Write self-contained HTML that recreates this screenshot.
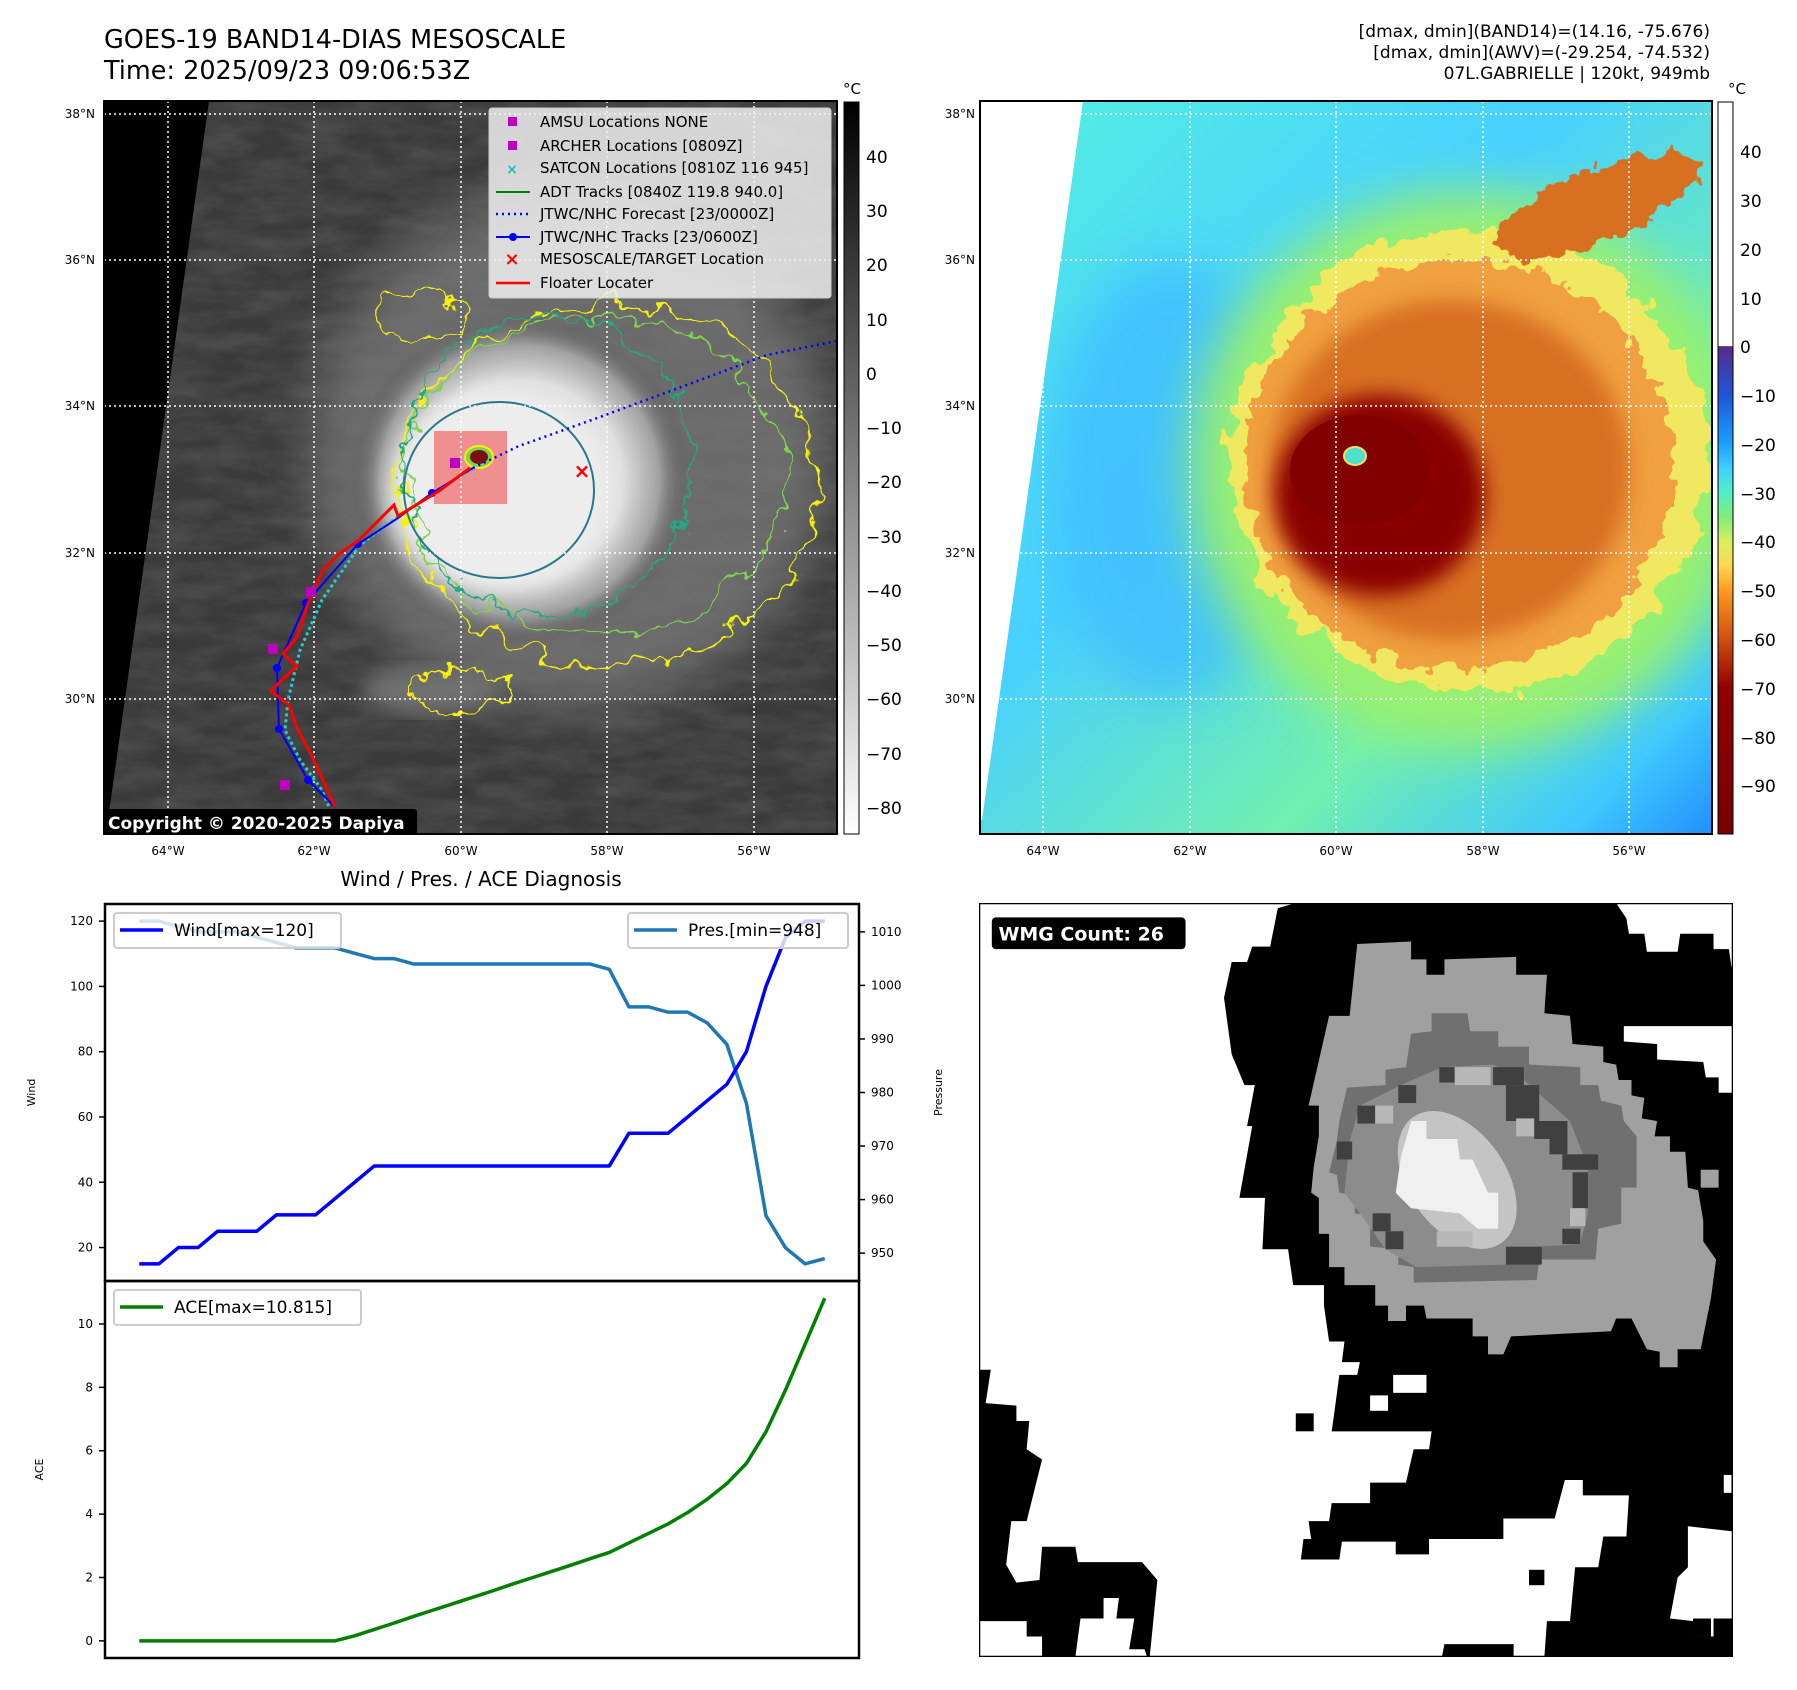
<!DOCTYPE html>
<html><head><meta charset="utf-8">
<style>
html,body{margin:0;padding:0;background:#fff;}
body{width:1797px;height:1690px;position:relative;overflow:hidden;font-family:"DejaVu Sans","Liberation Sans",sans-serif;}
.t{position:absolute;white-space:nowrap;color:#000;}
svg{position:absolute;left:0;top:0;}
</style></head>
<body>
<div class="t" style="left:104px;top:25px;font-size:25.5px;line-height:31px;">GOES-19 BAND14-DIAS MESOSCALE<br>Time: 2025/09/23 09:06:53Z</div>
<div class="t" style="right:87px;top:22px;font-size:17px;line-height:21px;text-align:right;">[dmax, dmin](BAND14)=(14.16, -75.676)<br>[dmax, dmin](AWV)=(-29.254, -74.532)<br>07L.GABRIELLE | 120kt, 949mb</div>

<svg width="1797" height="1690">
<defs>
<filter id="wig" x="-20%" y="-20%" width="140%" height="140%">
<feTurbulence type="fractalNoise" baseFrequency="0.035" numOctaves="3" seed="3" result="n"/>
<feDisplacementMap in="SourceGraphic" in2="n" scale="40" xChannelSelector="R" yChannelSelector="G"/>
</filter>
<filter id="wig2" x="-20%" y="-20%" width="140%" height="140%">
<feTurbulence type="fractalNoise" baseFrequency="0.05" numOctaves="3" seed="7" result="n"/>
<feDisplacementMap in="SourceGraphic" in2="n" scale="30" xChannelSelector="R" yChannelSelector="G"/>
</filter>
<filter id="blur"><feGaussianBlur stdDeviation="25"/></filter>
<filter id="blur2"><feGaussianBlur stdDeviation="10"/></filter>
<filter id="noise" x="0" y="0" width="100%" height="100%">
<feTurbulence type="fractalNoise" baseFrequency="0.02 0.06" numOctaves="4" seed="11"/>
<feColorMatrix type="matrix" values="0 0 0 0 1  0 0 0 0 1  0 0 0 0 1  0 0 0 0.35 -0.1"/>
</filter>
<radialGradient id="cloud1" cx="0.5" cy="0.5" r="0.5">
<stop offset="0" stop-color="#f2f2f2"/><stop offset="0.6" stop-color="#e0e0e0"/><stop offset="0.82" stop-color="#a0a0a0"/><stop offset="1" stop-color="#505050" stop-opacity="0"/>
</radialGradient>
<linearGradient id="cb1" x1="0" y1="0" x2="0" y2="1"><stop offset="0" stop-color="#000"/><stop offset="1" stop-color="#fff"/></linearGradient>
<linearGradient id="cb2" x1="0" y1="0" x2="0" y2="1">
<stop offset="0" stop-color="#ffffff"/>
<stop offset="0.333" stop-color="#ffffff"/>
<stop offset="0.334" stop-color="#5a2a8a"/>
<stop offset="0.40" stop-color="#1f55d8"/>
<stop offset="0.467" stop-color="#1aa0ff"/>
<stop offset="0.50" stop-color="#40d0ff"/>
<stop offset="0.533" stop-color="#50f0c8"/>
<stop offset="0.567" stop-color="#80ec78"/>
<stop offset="0.60" stop-color="#d8f060"/>
<stop offset="0.633" stop-color="#ffd850"/>
<stop offset="0.667" stop-color="#ff9a20"/>
<stop offset="0.733" stop-color="#d05010"/>
<stop offset="0.80" stop-color="#900000"/>
<stop offset="1" stop-color="#780000"/>
</linearGradient>
<linearGradient id="bg2" x1="0" y1="0" x2="1" y2="1">
<stop offset="0" stop-color="#55f0e0"/><stop offset="0.4" stop-color="#48d0ff"/><stop offset="0.7" stop-color="#70f0b0"/><stop offset="0.9" stop-color="#40c8ff"/><stop offset="1" stop-color="#2090ff"/>
</linearGradient>
<clipPath id="clip1"><rect x="104" y="101" width="733" height="733"/></clipPath>
<clipPath id="clip2"><rect x="980" y="101" width="732" height="733"/></clipPath>
</defs>

<!-- ===== MAP 1 ===== -->
<g clip-path="url(#clip1)">
<rect x="104" y="101" width="733" height="733" fill="#3a3a3a"/>
<rect x="104" y="101" width="733" height="733" filter="url(#noise)" opacity="0.5"/>
<ellipse cx="570" cy="450" rx="260" ry="260" fill="#7a7a7a" filter="url(#blur)" opacity="0.75"/>
<ellipse cx="520" cy="480" rx="170" ry="165" fill="url(#cloud1)"/>
<ellipse cx="500" cy="490" rx="110" ry="100" fill="#ededed" filter="url(#blur2)"/>
<ellipse cx="430" cy="690" rx="70" ry="25" fill="#707070" filter="url(#blur2)"/>
<polygon points="104,101 209,101 106,834 104,834" fill="#000"/>
<g fill="none" stroke-width="2">
<ellipse cx="608" cy="485" rx="210" ry="180" stroke="#f2f20a" filter="url(#wig)"/>
<ellipse cx="595" cy="476" rx="190" ry="160" stroke="#7fd34e" filter="url(#wig)"/>
<ellipse cx="548" cy="465" rx="144" ry="150" stroke="#22a884" filter="url(#wig2)"/>
<ellipse cx="499" cy="490" rx="95" ry="88" stroke="#2a788e"/>
<ellipse cx="420" cy="315" rx="45" ry="25" stroke="#f2f20a" filter="url(#wig2)"/>
<ellipse cx="460" cy="690" rx="50" ry="20" stroke="#f2f20a" filter="url(#wig2)"/>
</g>
<rect x="434" y="431" width="73" height="73" fill="rgba(240,80,80,0.6)"/>
<ellipse cx="479" cy="457" rx="14" ry="11" fill="#7fd34e" stroke="#f2f20a" stroke-width="2"/>
<ellipse cx="479" cy="457" rx="9" ry="7" fill="#7a1010"/>
<g stroke-width="1.5" fill="none" stroke="#ffffff" stroke-dasharray="2,3">
<line x1="104" y1="114" x2="837" y2="114"/><line x1="104" y1="260" x2="837" y2="260"/><line x1="104" y1="406" x2="837" y2="406"/><line x1="104" y1="553" x2="837" y2="553"/><line x1="104" y1="699" x2="837" y2="699"/>
<line x1="168" y1="101" x2="168" y2="834"/><line x1="314" y1="101" x2="314" y2="834"/><line x1="461" y1="101" x2="461" y2="834"/><line x1="607" y1="101" x2="607" y2="834"/><line x1="754" y1="101" x2="754" y2="834"/>
</g>
<polyline points="340,834 322,790 300,760 285,730 288,700 300,650 322,600 360,545 400,515 440,490 475,467" fill="none" stroke="#20d0d0" stroke-width="3" stroke-dasharray="3,3"/>
<polyline points="473,468 519,446 600,417 692,383 767,355 837,341" fill="none" stroke="#0000ff" stroke-width="2.5" stroke-dasharray="2,4"/>
<polyline points="335,807 308,780 279,729 277,668 306,603 358,544 398,518 432,493 473,468" fill="none" stroke="#0000ff" stroke-width="2"/>
<g fill="#0000ff"><circle cx="308" cy="780" r="4"/><circle cx="279" cy="729" r="4"/><circle cx="277" cy="668" r="4"/><circle cx="306" cy="603" r="4"/><circle cx="358" cy="544" r="4"/><circle cx="432" cy="493" r="4"/></g>
<polyline points="335,807 312,756 297,728 289,705 271,691 280,682 297,666 283,654 297,637 306,609 315,587 323,570 340,553 358,541 394,505 398,516 439,491 470,468" fill="none" stroke="#ff0000" stroke-width="3"/>
<g fill="#c000c0"><rect x="450" y="458" width="10" height="10"/><rect x="306" y="587" width="10" height="10"/><rect x="268" y="644" width="10" height="10"/><rect x="280" y="780" width="10" height="10"/></g>
<text x="582" y="478" fill="#ff0000" font-size="20" font-weight="bold" text-anchor="middle">×</text>
<rect x="103" y="809" width="314" height="26" rx="3" fill="#000"/>
<text x="108" y="829" fill="#fff" font-size="17" font-weight="bold">Copyright © 2020-2025 Dapiya</text>
</g>
<rect x="104" y="101" width="733" height="733" fill="none" stroke="#000" stroke-width="2"/>

<!-- legend map1 -->
<g font-size="15">
<rect x="489" y="108" width="342" height="190" rx="3" fill="rgba(240,240,240,0.85)" stroke="#ccc"/>
<rect x="508" y="117" width="9" height="9" fill="#c000c0"/><text x="540" y="127">AMSU Locations NONE</text>
<rect x="508" y="141" width="9" height="9" fill="#c000c0"/><text x="540" y="151">ARCHER Locations [0809Z]</text>
<text x="512" y="174" fill="#20c0c0" font-size="14" font-weight="bold" text-anchor="middle">×</text><text x="540" y="173">SATCON Locations [0810Z 116 945]</text>
<line x1="496" y1="192" x2="530" y2="192" stroke="#008000" stroke-width="2"/><text x="540" y="197">ADT Tracks [0840Z 119.8 940.0]</text>
<line x1="496" y1="214" x2="530" y2="214" stroke="#0000ff" stroke-width="2.5" stroke-dasharray="2,4"/><text x="540" y="219">JTWC/NHC Forecast [23/0000Z]</text>
<line x1="496" y1="237" x2="530" y2="237" stroke="#0000ff" stroke-width="2"/><circle cx="513" cy="237" r="4" fill="#0000ff"/><text x="540" y="242">JTWC/NHC Tracks [23/0600Z]</text>
<text x="512" y="265" fill="#ff0000" font-size="18" font-weight="bold" text-anchor="middle">×</text><text x="540" y="264">MESOSCALE/TARGET Location</text>
<line x1="496" y1="283" x2="530" y2="283" stroke="#ff0000" stroke-width="2.5"/><text x="540" y="288">Floater Locater</text>
</g>

<g font-size="12">
<text x="95" y="118" text-anchor="end">38°N</text><text x="95" y="264" text-anchor="end">36°N</text><text x="95" y="410" text-anchor="end">34°N</text><text x="95" y="557" text-anchor="end">32°N</text><text x="95" y="703" text-anchor="end">30°N</text>
<text x="168" y="855" text-anchor="middle">64°W</text><text x="314" y="855" text-anchor="middle">62°W</text><text x="461" y="855" text-anchor="middle">60°W</text><text x="607" y="855" text-anchor="middle">58°W</text><text x="754" y="855" text-anchor="middle">56°W</text>
</g>
<g font-size="17">
<rect x="844" y="102" width="15" height="732" fill="url(#cb1)" stroke="#000" stroke-width="1"/>
<text x="852" y="94" font-size="15" text-anchor="middle">°C</text>
<text x="866" y="163">40</text><text x="866" y="217">30</text><text x="866" y="271">20</text><text x="866" y="326">10</text><text x="866" y="380">0</text>
<text x="866" y="434">−10</text><text x="866" y="488">−20</text><text x="866" y="543">−30</text><text x="866" y="597">−40</text><text x="866" y="651">−50</text><text x="866" y="705">−60</text><text x="866" y="760">−70</text><text x="866" y="814">−80</text>
</g>

<!-- ===== MAP 2 ===== -->
<g clip-path="url(#clip2)">
<rect x="980" y="101" width="732" height="733" fill="url(#bg2)"/>
<ellipse cx="1170" cy="480" rx="120" ry="220" fill="#40c0ff" filter="url(#blur)" opacity="0.85"/>
<ellipse cx="1470" cy="470" rx="280" ry="280" fill="#98f070" filter="url(#blur)"/>
<ellipse cx="1470" cy="460" rx="240" ry="230" fill="#f0e860" filter="url(#wig)"/>
<ellipse cx="1460" cy="465" rx="215" ry="205" fill="#f0a040" filter="url(#wig2)"/>
<ellipse cx="1450" cy="470" rx="180" ry="170" fill="#d87020" filter="url(#blur2)"/>
<ellipse cx="1600" cy="205" rx="110" ry="35" fill="#d87020" transform="rotate(-22 1600 205)" filter="url(#wig2)"/>
<ellipse cx="1380" cy="495" rx="105" ry="100" fill="#8a0000" filter="url(#blur2)"/>
<ellipse cx="1360" cy="470" rx="70" ry="55" fill="#800000"/>
<ellipse cx="1355" cy="456" rx="11" ry="9" fill="#50e0d0" stroke="#f0e060" stroke-width="2"/>
<polygon points="980,101 1083,101 982,820 980,820" fill="#fff"/>
<g stroke-width="1.5" fill="none" stroke="#ffffff" stroke-dasharray="2,3">
<line x1="980" y1="114" x2="1712" y2="114"/><line x1="980" y1="260" x2="1712" y2="260"/><line x1="980" y1="406" x2="1712" y2="406"/><line x1="980" y1="553" x2="1712" y2="553"/><line x1="980" y1="699" x2="1712" y2="699"/>
<line x1="1043" y1="101" x2="1043" y2="834"/><line x1="1190" y1="101" x2="1190" y2="834"/><line x1="1336" y1="101" x2="1336" y2="834"/><line x1="1483" y1="101" x2="1483" y2="834"/><line x1="1629" y1="101" x2="1629" y2="834"/>
</g>
</g>
<rect x="980" y="101" width="732" height="733" fill="none" stroke="#000" stroke-width="2"/>
<g font-size="12">
<text x="975" y="118" text-anchor="end">38°N</text><text x="975" y="264" text-anchor="end">36°N</text><text x="975" y="410" text-anchor="end">34°N</text><text x="975" y="557" text-anchor="end">32°N</text><text x="975" y="703" text-anchor="end">30°N</text>
<text x="1043" y="855" text-anchor="middle">64°W</text><text x="1190" y="855" text-anchor="middle">62°W</text><text x="1336" y="855" text-anchor="middle">60°W</text><text x="1483" y="855" text-anchor="middle">58°W</text><text x="1629" y="855" text-anchor="middle">56°W</text>
</g>
<g font-size="17">
<rect x="1718" y="102" width="15" height="732" fill="url(#cb2)" stroke="#000" stroke-width="1"/>
<text x="1737" y="94" font-size="15" text-anchor="middle">°C</text>
<text x="1740" y="158">40</text><text x="1740" y="207">30</text><text x="1740" y="256">20</text><text x="1740" y="305">10</text><text x="1740" y="353">0</text>
<text x="1740" y="402">−10</text><text x="1740" y="451">−20</text><text x="1740" y="500">−30</text><text x="1740" y="548">−40</text><text x="1740" y="597">−50</text><text x="1740" y="646">−60</text><text x="1740" y="695">−70</text><text x="1740" y="744">−80</text><text x="1740" y="792">−90</text>
</g>

<!-- ===== WMG panel ===== -->
<svg x="979" y="903" width="754" height="754" viewBox="37 45 1471 1470" preserveAspectRatio="none">
<rect x="37" y="45" width="1471" height="1470" fill="#000"/>
<g fill="#fff">
<polygon points="37,45 655,45 620,55 605,130 570,130 560,160 530,160 515,230 530,340 555,400 575,400 560,480 570,480 545,620 595,620 590,720 640,720 650,790 710,790 710,830 720,900 750,900 745,940 780,940 775,965 740,965 730,1040 725,1075 920,1075 915,1110 885,1110 870,1175 800,1175 800,1215 725,1215 720,1250 680,1250 685,1285 670,1285 665,1325 740,1325 745,1290 850,1290 850,1315 915,1315 915,1285 1060,1285 1060,1245 1160,1245 1180,1170 1215,1170 1215,1200 1305,1200 1300,1280 1255,1280 1245,1340 1200,1340 1190,1445 1145,1445 1140,1515 1080,1515 1080,1490 945,1490 940,1515 370,1515 385,1365 355,1330 230,1330 225,1300 160,1300 155,1365 110,1370 90,1335 100,1250 130,1250 160,1130 130,1110 135,1055 110,1055 110,1025 50,1020 60,955 37,955"/>
<polygon points="37,1445 130,1445 130,1475 160,1475 160,1515 37,1515"/>
<polygon points="235,1440 280,1440 280,1400 310,1400 305,1440 340,1440 330,1500 360,1500 365,1515 225,1515"/>
<polygon points="1280,45 1508,45 1508,170 1505,170 1500,135 1470,135 1470,105 1405,105 1400,140 1340,140 1335,105 1305,105 1300,75"/>
<polygon points="1295,285 1508,285 1508,415 1480,415 1480,385 1455,385 1450,355 1360,350 1360,320 1295,315"/>
<polygon points="1420,1260 1508,1270 1508,1440 1470,1440 1470,1475 1430,1475 1430,1445 1385,1440 1400,1360 1420,1340"/>
<rect x="1490" y="1160" width="15" height="35"/>
<rect x="845" y="965" width="65" height="35"/><rect x="800" y="1005" width="35" height="30"/>
</g>
<g fill="#000"><rect x="655" y="1040" width="35" height="35"/><rect x="1110" y="1345" width="30" height="30"/><rect x="1430" y="1440" width="35" height="35"/></g>
<polygon fill="#a0a0a0" points="775,125 880,120 880,155 910,155 910,185 945,185 945,155 1085,150 1085,185 1145,185 1140,260 1190,265 1195,320 1255,325 1255,355 1280,360 1285,390 1310,390 1310,420 1335,425 1330,465 1360,470 1355,500 1385,500 1385,530 1415,530 1420,600 1440,605 1450,665 1450,705 1475,740 1465,815 1445,915 1400,915 1400,950 1365,950 1365,920 1340,915 1310,855 1280,855 1270,880 1075,890 1060,925 1030,925 1030,890 1000,890 1000,855 910,855 905,830 870,830 870,860 835,860 835,830 810,830 810,790 750,790 750,755 720,755 720,690 700,690 700,620 685,610 690,560 700,500 700,440 680,440 720,265 760,265"/>
<rect x="1445" y="565" width="35" height="35" fill="#a0a0a0"/>
<polygon fill="#707070" points="920,260 990,260 995,295 1050,295 1050,325 1110,325 1110,360 1210,365 1210,400 1245,400 1250,430 1290,440 1295,470 1320,500 1320,600 1290,600 1290,670 1245,680 1240,740 1130,740 1125,780 885,785 885,755 855,750 855,720 800,715 800,655 770,650 770,615 740,610 735,575 720,570 735,510 740,470 755,405 830,400 830,370 870,365 880,300 920,295"/>
<polygon fill="#8c8c8c" points="860,400 940,365 1040,360 1100,390 1190,470 1225,560 1225,650 1210,710 1130,715 1065,750 890,755 830,720 780,650 750,610 760,510 780,440"/>
<ellipse cx="970" cy="585" rx="95" ry="150" fill="#c4c4c4" transform="rotate(-35 970 585)"/>
<polygon fill="#f0f0f0" points="880,470 910,470 910,505 970,505 975,545 1000,545 1030,610 1050,610 1050,680 1010,680 975,650 880,640 850,610 860,540"/>
<g fill="#404040">
<rect x="935" y="365" width="35" height="30"/><rect x="855" y="400" width="35" height="35"/><rect x="775" y="440" width="35" height="35"/><rect x="735" y="510" width="30" height="35"/><rect x="805" y="650" width="35" height="35"/><rect x="830" y="685" width="35" height="35"/><rect x="1040" y="365" width="60" height="35"/><rect x="1065" y="400" width="65" height="70"/><rect x="1120" y="470" width="65" height="35"/><rect x="1150" y="500" width="35" height="35"/><rect x="1175" y="535" width="70" height="30"/><rect x="1195" y="570" width="30" height="70"/><rect x="1175" y="680" width="35" height="30"/><rect x="1065" y="715" width="70" height="35"/>
</g>
<g fill="#b8b8b8"><rect x="965" y="365" width="70" height="35"/><rect x="1085" y="465" width="35" height="35"/><rect x="930" y="685" width="70" height="30"/><rect x="1190" y="640" width="30" height="35"/><rect x="810" y="440" width="35" height="35"/></g>
<rect x="62" y="73" width="378" height="62" rx="8" fill="#000"/>
<text x="75" y="118" fill="#fff" font-size="37" font-weight="bold">WMG Count: 26</text>
<rect x="37" y="45" width="1471" height="1470" fill="none" stroke="#000" stroke-width="5"/>
</svg>

<text x="481" y="886" font-size="20" text-anchor="middle">Wind / Pres. / ACE Diagnosis</text>
<g id="chart"></g>
</svg>

<script>
const idx = [];
for (let i = 0; i < 36; i++) idx.push(i);
const windValues = [15,15,20,20,25,25,25,30,30,30,35,40,45,45,45,45,45,45,45,45,45,45,45,45,45,55,55,55,60,65,70,80,100,115,120,120];
const presValues = [1012,1012,1011,1010,1010,1010,1009,1008,1007,1007,1007,1006,1005,1005,1004,1004,1004,1004,1004,1004,1004,1004,1004,1004,1003,996,996,995,995,993,989,978,957,951,948,949];
const aceValues = [0,0,0,0,0,0,0,0,0,0,0,0.16,0.36,0.56,0.77,0.97,1.17,1.37,1.57,1.78,1.98,2.18,2.38,2.59,2.79,3.09,3.39,3.69,4.05,4.47,4.96,5.60,6.60,7.92,9.36,10.815];
const windTicks = [20,40,60,80,100,120];
const presTicks = [950,960,970,980,990,1000,1010];
const aceTicks = [0,2,4,6,8,10];

const NS = 'http://www.w3.org/2000/svg';
const g = document.getElementById('chart');
const L = 105, R = 859, T1 = 904, B1 = 1281, T2 = 1281, B2 = 1658;
function lim(a){const mn=Math.min(...a),mx=Math.max(...a),m=(mx-mn)*0.05;return [mn-m,mx+m];}
const xl = lim(idx), wl = lim(windValues), pl = lim(presValues), al = lim(aceValues);
const X = v => L + (v - xl[0]) / (xl[1] - xl[0]) * (R - L);
const Yw = v => B1 - (v - wl[0]) / (wl[1] - wl[0]) * (B1 - T1);
const Yp = v => B1 - (v - pl[0]) / (pl[1] - pl[0]) * (B1 - T1);
const Ya = v => B2 - (v - al[0]) / (al[1] - al[0]) * (B2 - T2);
function el(tag, attrs, text){const e=document.createElementNS(NS,tag);for(const k in attrs)e.setAttribute(k,attrs[k]);if(text!==undefined)e.textContent=text;g.appendChild(e);return e;}
function line(vals, Y, color, name){
  const p = el('polyline',{points: vals.map((v,i)=>X(idx[i])+','+Y(v)).join(' '), fill:'none', stroke:color, 'stroke-width':3.5, 'stroke-linejoin':'round'});
  
  
}
line(presValues, Yp, '#1f77b4', 'pressure-line');
line(windValues, Yw, '#0000ff', 'wind-line');
line(aceValues, Ya, '#008000', 'ace-line');
el('rect',{x:L,y:T1,width:R-L,height:B1-T1,fill:'none',stroke:'#000','stroke-width':2.5});
el('rect',{x:L,y:T2,width:R-L,height:B2-T2,fill:'none',stroke:'#000','stroke-width':2.5});
windTicks.forEach(v=>{const y=Yw(v);el('line',{x1:L-6,x2:L,y1:y,y2:y,stroke:'#000','stroke-width':1.5});
  const t=el('text',{x:L-12,y:y+4,'font-size':12,'text-anchor':'end'},v);});
presTicks.forEach(v=>{const y=Yp(v);el('line',{x1:R,x2:R+6,y1:y,y2:y,stroke:'#000','stroke-width':1.5});
  const t=el('text',{x:R+12,y:y+4,'font-size':12},v);});
aceTicks.forEach(v=>{const y=Ya(v);el('line',{x1:L-6,x2:L,y1:y,y2:y,stroke:'#000','stroke-width':1.5});
  const t=el('text',{x:L-12,y:y+4,'font-size':12,'text-anchor':'end'},v);});
const yl1=el('text',{x:35,y:(T1+B1)/2,'font-size':11,'text-anchor':'middle',transform:'rotate(-90 35 '+((T1+B1)/2)+')'},'Wind');

const yl2=el('text',{x:942,y:(T1+B1)/2,'font-size':11,'text-anchor':'middle',transform:'rotate(-90 942 '+((T1+B1)/2)+')'},'Pressure');

const yl3=el('text',{x:43,y:(T2+B2)/2,'font-size':11,'text-anchor':'middle',transform:'rotate(-90 43 '+((T2+B2)/2)+')'},'ACE');

function legend(x,y,w,color,label,name){
  const r=el('rect',{x:x,y:y,width:w,height:35,rx:3,fill:'rgba(255,255,255,0.8)',stroke:'#ccc','stroke-width':2});
  
  el('line',{x1:x+6,x2:x+49,y1:y+17,y2:y+17,stroke:color,'stroke-width':3.5});
  el('text',{x:x+60,y:y+23,'font-size':17},label);
}
legend(114,913,227,'#0000ff','Wind[max=120]','wind-legend');
legend(628,913,220,'#1f77b4','Pres.[min=948]','pressure-legend');
legend(114,1290,247,'#008000','ACE[max=10.815]','ace-legend');
</script>
</body></html>
